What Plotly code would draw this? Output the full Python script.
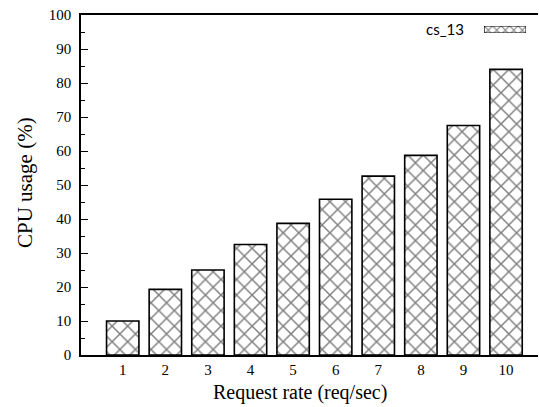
import plotly.graph_objects as go

# Request rates (req/sec) and measured CPU usage (%)
request_rate = [1, 2, 3, 4, 5, 6, 7, 8, 9, 10]
cpu_usage = [10.0, 19.3, 25.0, 32.5, 38.7, 45.8, 52.6, 58.7, 67.5, 84.0]
series_name = "cs_13"
y_ticks = [0, 10, 20, 30, 40, 50, 60, 70, 80, 90, 100]
x_title = "Request rate (req/sec)"
y_title = "CPU usage (%)"

serif = "Liberation Serif, Times New Roman, serif"
hatch = dict(shape="x", size=11, solidity=0.25, fgcolor="black", bgcolor="white", fillmode="overlay")

W, H = 539, 407
L, R, T, B = 81, 1, 15, 52

fig = go.Figure()

fig.add_trace(go.Bar(
    x=request_rate, y=cpu_usage, name=series_name, width=0.76,
    marker=dict(color="white", line=dict(color="black", width=1.6), pattern=hatch),
    showlegend=False,
))

# Legend key: a small hatched swatch on its own hidden axes
fig.add_trace(go.Bar(
    x=[0], y=[1], width=1, xaxis="x2", yaxis="y2", showlegend=False,
    marker=dict(color="white", line=dict(color="black", width=1.2),
                pattern=dict(shape="x", size=6, solidity=0.35, fgcolor="black", bgcolor="white")),
    hoverinfo="skip",
))

fig.update_layout(
    width=W, height=H,
    margin=dict(l=L, r=R, t=T, b=B),
    plot_bgcolor="white", paper_bgcolor="white",
    xaxis=dict(
        range=[0.02, 10.75], tickmode="array", tickvals=request_rate,
        ticks="", showgrid=False, zeroline=False,
        showline=True, linecolor="black", linewidth=2, mirror=True,
        tickfont=dict(family=serif, size=15, color="black"),
    ),
    yaxis=dict(
        range=[0, 100], tickmode="array", tickvals=y_ticks,
        ticks="inside", ticklen=7, tickwidth=1.2, tickcolor="black",
        minor=dict(ticks="inside", ticklen=4, tickwidth=1, tickcolor="black", dtick=5),
        showgrid=False, zeroline=False,
        showline=True, linecolor="black", linewidth=1.5,
        ticklabelstandoff=5,
        tickfont=dict(family=serif, size=15, color="black"),
    ),
    xaxis2=dict(domain=[0.882, 0.974], range=[-0.5, 0.5], anchor="y2", visible=False, fixedrange=True),
    yaxis2=dict(domain=[0.947, 0.968], range=[0, 1], anchor="x2", visible=False, fixedrange=True),
    annotations=[
        dict(text=series_name, xref="paper", yref="paper", x=0.843, y=0.958,
             xanchor="right", yanchor="middle", showarrow=False,
             font=dict(family="Lato, sans-serif", size=15, color="black")),
        dict(text=x_title, xref="paper", yref="paper",
             x=(300 - L) / (W - L - R), y=-(392 - (H - B)) / (H - T - B),
             xanchor="center", yanchor="middle", showarrow=False,
             font=dict(family=serif, size=20, color="black")),
        dict(text=y_title, xref="paper", yref="paper", textangle=-90,
             x=-(L - 25) / (W - L - R), y=((H - B) - 183) / (H - T - B),
             xanchor="center", yanchor="middle", showarrow=False,
             font=dict(family=serif, size=21, color="black")),
    ],
)

fig.write_html("out.html")
